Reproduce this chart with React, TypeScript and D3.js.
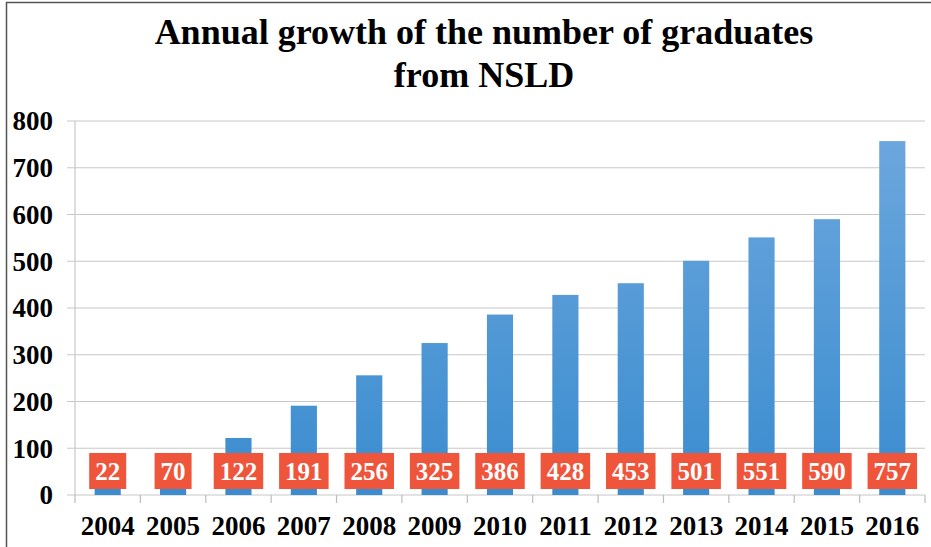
import React, { useEffect, useRef } from 'react';
import * as d3 from 'd3';

// chart data
const years = ['2004', '2005', '2006', '2007', '2008', '2009', '2010', '2011', '2012', '2013', '2014', '2015', '2016'];
const graduates = [22, 70, 122, 191, 256, 325, 386, 428, 453, 501, 551, 590, 757];
const yTicks = [0, 100, 200, 300, 400, 500, 600, 700, 800];
const titleLines = ['Annual growth of the number of graduates', 'from NSLD'];

const W = 931;
const H = 547;
const FONT = '"Liberation Serif", "Times New Roman", serif';

function App() {
  const ref = useRef<SVGSVGElement | null>(null);

  useEffect(() => {
    document.body.style.margin = '0';
    const svg = d3.select(ref.current);
    svg.selectAll('*').remove();

    const margin = { top: 121, right: 6, bottom: 52, left: 75 };
    const innerW = W - margin.left - margin.right;
    const innerH = H - margin.top - margin.bottom;

    // frame
    svg.append('rect').attr('x', 6.5).attr('y', 2.5).attr('width', W + 10).attr('height', H + 10)
      .attr('fill', 'white').attr('stroke', '#555').attr('stroke-width', 1.5);

    // title
    svg.append('g').selectAll('text').data(titleLines).enter().append('text')
      .attr('x', 484).attr('y', (d, i) => 44 + i * 43)
      .attr('text-anchor', 'middle')
      .style('font-family', FONT).style('font-weight', 'bold').style('font-size', '36px')
      .text(d => d);

    const x = d3.scaleBand().domain(years).range([0, innerW]).paddingInner(0.6).paddingOuter(0.3);
    const y = d3.scaleLinear().domain([0, 800]).range([innerH, 0]);

    const defs = svg.append('defs');
    const grad = defs.append('linearGradient').attr('id', 'barGrad')
      .attr('gradientUnits', 'userSpaceOnUse')
      .attr('x1', 0).attr('x2', 0).attr('y1', y(800)).attr('y2', y(0));
    grad.append('stop').attr('offset', '0%').attr('stop-color', '#6ea8de');
    grad.append('stop').attr('offset', '100%').attr('stop-color', '#3a8ccf');

    const chart = svg.append('g').attr('transform', `translate(${margin.left},${margin.top})`);

    // gridlines
    chart.selectAll('.grid').data(yTicks).enter().append('line')
      .attr('x1', -8).attr('x2', innerW)
      .attr('y1', d => y(d)).attr('y2', d => y(d))
      .attr('stroke', '#c8c8c8').attr('stroke-width', 1.2);

    // y axis line
    chart.append('line')
      .attr('x1', 0).attr('x2', 0).attr('y1', 0).attr('y2', innerH)
      .attr('stroke', '#c8c8c8').attr('stroke-width', 1.2);

    // y tick labels
    chart.selectAll('.ylab').data(yTicks).enter().append('text')
      .attr('x', -22).attr('y', d => y(d)).attr('dy', '0.35em')
      .attr('text-anchor', 'end')
      .style('font-family', FONT).style('font-weight', 'bold').style('font-size', '27px')
      .text(d => d);

    // bars
    chart.selectAll('.bar').data(graduates).enter().append('rect')
      .attr('x', (d, i) => x(years[i]) as number)
      .attr('y', d => y(d))
      .attr('width', x.bandwidth())
      .attr('height', d => innerH - y(d))
      .attr('fill', 'url(#barGrad)');

    // x axis ticks at category boundaries
    const step = x.step();
    chart.selectAll('.xtick').data(d3.range(years.length + 1)).enter().append('line')
      .attr('x1', d => d * step).attr('x2', d => d * step)
      .attr('y1', innerH).attr('y2', innerH + 8)
      .attr('stroke', '#bbb').attr('stroke-width', 1.2);

    chart.selectAll('.xlab').data(years).enter().append('text')
      .attr('x', d => (x(d) as number) + x.bandwidth() / 2)
      .attr('y', innerH + 40)
      .attr('text-anchor', 'middle')
      .style('font-family', FONT).style('font-weight', 'bold').style('font-size', '27px')
      .text(d => d);

    // value labels in red boxes
    const labelY = innerH - 24;
    const lab = chart.selectAll('.vlab').data(graduates).enter().append('g')
      .attr('transform', (d, i) => `translate(${(x(years[i]) as number) + x.bandwidth() / 2},${labelY})`);
    lab.append('rect')
      .attr('x', d => -(String(d).length * 12.5 + 12) / 2)
      .attr('y', -18)
      .attr('width', d => String(d).length * 12.5 + 12)
      .attr('height', 36)
      .attr('fill', '#ef553a');
    lab.append('text')
      .attr('text-anchor', 'middle').attr('dy', '0.36em')
      .attr('fill', 'white')
      .style('font-family', FONT).style('font-weight', 'bold').style('font-size', '25px')
      .text(d => d);
  }, []);

  return <svg ref={ref} width={W} height={H} style={{ display: 'block' }} />;
}

export default App;
